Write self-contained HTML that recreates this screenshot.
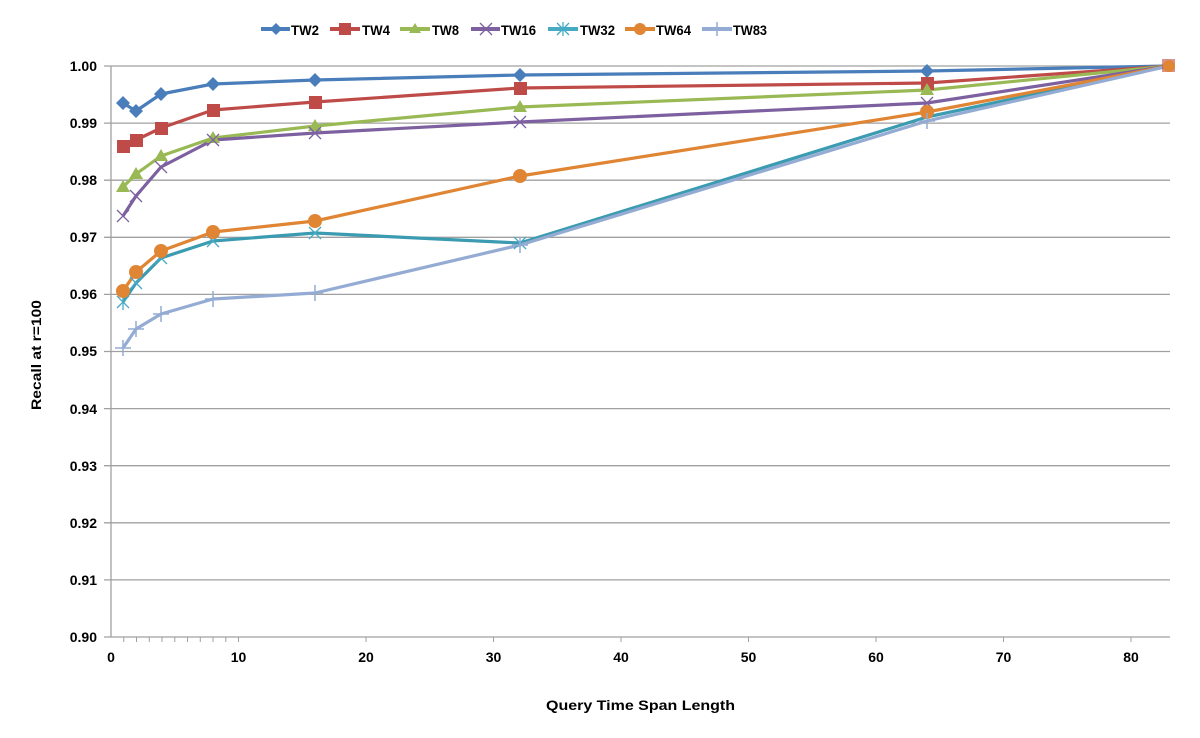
<!DOCTYPE html>
<html><head><style>body{margin:0;background:#fff}svg{display:block}text{font-family:"Liberation Sans",sans-serif;font-weight:bold;font-size:14px;fill:#000}</style></head>
<body>
<svg width="1200" height="738" xmlns="http://www.w3.org/2000/svg">
<g stroke="#a0a0a0" stroke-width="1.3">
<line x1="104" y1="66" x2="1170" y2="66"/><line x1="104" y1="123.1" x2="1170" y2="123.1"/><line x1="104" y1="180.2" x2="1170" y2="180.2"/><line x1="104" y1="237.3" x2="1170" y2="237.3"/><line x1="104" y1="294.4" x2="1170" y2="294.4"/><line x1="104" y1="351.5" x2="1170" y2="351.5"/><line x1="104" y1="408.6" x2="1170" y2="408.6"/><line x1="104" y1="465.7" x2="1170" y2="465.7"/><line x1="104" y1="522.8" x2="1170" y2="522.8"/><line x1="104" y1="579.9" x2="1170" y2="579.9"/>
<line x1="104" y1="637" x2="1170" y2="637"/><line x1="111" y1="66" x2="111" y2="637"/>
</g>
<g stroke="#a0a0a0" stroke-width="1">
<line x1="123.8" y1="637" x2="123.8" y2="642"/><line x1="136.5" y1="637" x2="136.5" y2="642"/><line x1="149.3" y1="637" x2="149.3" y2="642"/><line x1="162" y1="637" x2="162" y2="642"/><line x1="174.8" y1="637" x2="174.8" y2="642"/><line x1="187.5" y1="637" x2="187.5" y2="642"/><line x1="200.3" y1="637" x2="200.3" y2="642"/><line x1="213" y1="637" x2="213" y2="642"/><line x1="225.8" y1="637" x2="225.8" y2="642"/><line x1="238.5" y1="637" x2="238.5" y2="642"/>
<line x1="366" y1="637" x2="366" y2="642"/><line x1="493.5" y1="637" x2="493.5" y2="642"/><line x1="621" y1="637" x2="621" y2="642"/><line x1="748.5" y1="637" x2="748.5" y2="642"/><line x1="876" y1="637" x2="876" y2="642"/><line x1="1003.5" y1="637" x2="1003.5" y2="642"/><line x1="1131" y1="637" x2="1131" y2="642"/>
</g>
<g text-anchor="end">
<text x="97" y="71">1.00</text><text x="97" y="128">0.99</text><text x="97" y="185">0.98</text><text x="97" y="242">0.97</text><text x="97" y="299">0.96</text><text x="97" y="356">0.95</text><text x="97" y="414">0.94</text><text x="97" y="471">0.93</text><text x="97" y="528">0.92</text><text x="97" y="585">0.91</text><text x="97" y="642">0.90</text>
</g>
<g text-anchor="middle">
<text x="111" y="662">0</text><text x="238.5" y="662">10</text><text x="366" y="662">20</text><text x="493.5" y="662">30</text><text x="621" y="662">40</text><text x="748.5" y="662">50</text><text x="876" y="662">60</text><text x="1003.5" y="662">70</text><text x="1131" y="662">80</text>
</g>
<text x="546" y="710" font-size="14" textLength="189" lengthAdjust="spacingAndGlyphs">Query Time Span Length</text>
<text transform="translate(41,410) rotate(-90)" font-size="14" textLength="110" lengthAdjust="spacingAndGlyphs">Recall at r=100</text>
<g fill="none" stroke-width="3.2" stroke-linejoin="round">
<polyline stroke="#4a7ebb" points="123,103 136,111 161,94 213,84 315,80 520,75 927,71 1169,66"/>
<polyline stroke="#be4b48" points="123,146 136,140 161,128 213,110 315,102 520,88 927,83 1169,66"/>
<polyline stroke="#98b954" points="123,187 136,174 161,156 213,138 315,126 520,107 927,90 1169,66"/>
<polyline stroke="#7d60a0" points="123,216 136,196 161,167 213,140 315,133 520,122 927,103 1169,66"/>
<polyline stroke="#3b9bb0" points="123,302 136,283 161,258 213,241 315,233 520,243 927,117 1169,66"/>
<polyline stroke="#e08533" points="123,291 136,272 161,251 213,232 315,221 520,176 927,112 1169,66"/>
<polyline stroke="#94acd4" points="123,348 136,329 161,314 213,299 315,293 520,245 927,121 1169,66"/>
</g>
<g fill="#4a7ebb"><path d="M123,96l7,7-7,7-7-7z M136,104l7,7-7,7-7-7z M161,87l7,7-7,7-7-7z M213,77l7,7-7,7-7-7z M315,73l7,7-7,7-7-7z M520,68l7,7-7,7-7-7z M927,64l7,7-7,7-7-7z"/></g>
<g fill="#be4b48"><rect x="117" y="140" width="13" height="13"/><rect x="130" y="134" width="13" height="13"/><rect x="155" y="122" width="13" height="13"/><rect x="207" y="104" width="13" height="13"/><rect x="309" y="96" width="13" height="13"/><rect x="514" y="82" width="13" height="13"/><rect x="921" y="77" width="13" height="13"/></g>
<g fill="#98b954"><path d="M123,180l7,12h-14z M136,167l7,12h-14z M161,149l7,12h-14z M213,131l7,12h-14z M315,119l7,12h-14z M520,100l7,12h-14z M927,83l7,12h-14z"/></g>
<g stroke="#7d60a0" stroke-width="1.3"><path d="M117,210l12,12M129,210l-12,12M130,190l12,12M142,190l-12,12M155,161l12,12M167,161l-12,12M207,134l12,12M219,134l-12,12M309,127l12,12M321,127l-12,12M514,116l12,12M526,116l-12,12M921,97l12,12M933,97l-12,12"/></g>
<g stroke="#46aac5" stroke-width="1.3"><path d="M117,296l12,12M129,296l-12,12M123,294v16M130,277l12,12M142,277l-12,12M155,252l12,12M167,252l-12,12M207,235l12,12M219,235l-12,12M309,227l12,12M321,227l-12,12M514,237l12,12M526,237l-12,12"/></g>
<g fill="#e08533"><circle cx="123" cy="291" r="7"/><circle cx="136" cy="272" r="7"/><circle cx="161" cy="251" r="7"/><circle cx="213" cy="232" r="7"/><circle cx="315" cy="221" r="7"/><circle cx="520" cy="176" r="7"/><circle cx="927" cy="112" r="7"/></g>
<g stroke="#94acd4" stroke-width="1.5"><path d="M115,348h16M123,340v16M128,329h16M136,321v16M153,314h16M161,306v16M205,299h16M213,291v16M307,293h16M315,285v16M512,245h16M520,237v16M919,121h16M927,113v16"/></g>
<g stroke-width="4"><line x1="261" y1="29" x2="290" y2="29" stroke="#4a7ebb"/><line x1="330" y1="29" x2="360" y2="29" stroke="#be4b48"/><line x1="400" y1="29" x2="430" y2="29" stroke="#98b954"/><line x1="471" y1="29" x2="500" y2="29" stroke="#7d60a0"/><line x1="548" y1="29" x2="578" y2="29" stroke="#46aac5"/><line x1="625" y1="29" x2="655" y2="29" stroke="#e08533"/><line x1="702" y1="29" x2="732" y2="29" stroke="#94acd4"/></g>
<path d="M276,23l6,6-6,6-6-6z" fill="#4a7ebb"/><rect x="339" y="23" width="12" height="12" fill="#be4b48"/><path d="M415,23l6,10h-12z" fill="#98b954"/>
<path d="M480,23l12,12M492,23l-12,12" stroke="#7d60a0" stroke-width="1.3"/><path d="M557,23l12,12M569,23l-12,12M563,22v14" stroke="#46aac5" stroke-width="1.3"/><circle cx="640" cy="29" r="6" fill="#e08533"/><path d="M717,22v14" stroke="#94acd4" stroke-width="1.5"/>
<g font-size="15">
<text x="291" y="35" textLength="28" lengthAdjust="spacingAndGlyphs">TW2</text><text x="362" y="35" textLength="28" lengthAdjust="spacingAndGlyphs">TW4</text><text x="432" y="35" textLength="27" lengthAdjust="spacingAndGlyphs">TW8</text><text x="501" y="35" textLength="35" lengthAdjust="spacingAndGlyphs">TW16</text><text x="580" y="35" textLength="35" lengthAdjust="spacingAndGlyphs">TW32</text><text x="656" y="35" textLength="35" lengthAdjust="spacingAndGlyphs">TW64</text><text x="733" y="35" textLength="34" lengthAdjust="spacingAndGlyphs">TW83</text>
</g>
<rect x="1162" y="59" width="13" height="13" fill="#be4b48" opacity="0.6"/><circle cx="1169" cy="66" r="6" fill="#e08533"/>
</svg>
</body></html>
